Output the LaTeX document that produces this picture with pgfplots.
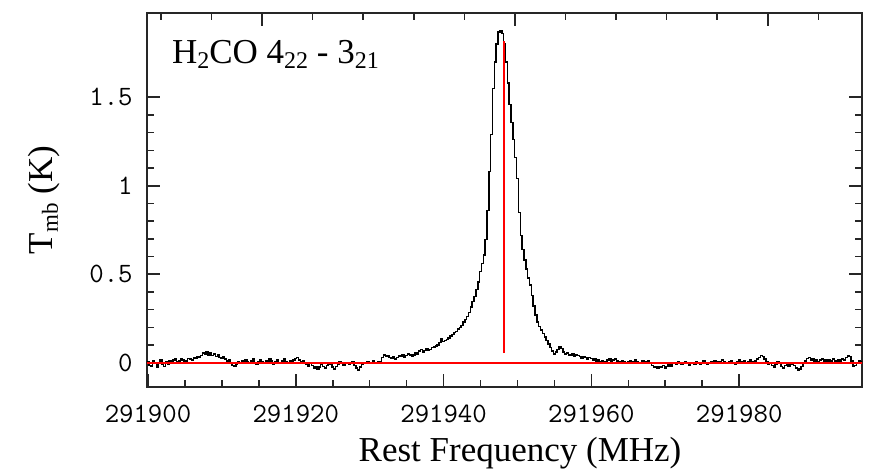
\documentclass[border=0pt]{standalone}
\usepackage{fontspec}
\setmainfont{Liberation Serif}
\usepackage{pgfplots}
\usepackage{pgfplotstable}
\pgfplotsset{compat=1.18}
\definecolor{specred}{rgb}{1,0,0}
\newcommand\sub[2][10]{\raisebox{-0.3ex}{\fontsize{#1}{#1}\selectfont #2}}

% frequency offset from 291900 MHz, T_mb in K
\pgfplotstableread{
f T
-0.25 0.000
0.00 0.005
0.25 -0.015
0.50 -0.020
0.75 0.010
1.00 -0.005
1.25 -0.025
1.50 0.000
1.75 0.015
2.00 -0.010
2.25 -0.020
2.50 0.005
2.75 -0.010
3.00 0.010
3.25 0.000
3.50 0.015
3.75 0.020
4.00 0.005
4.25 0.010
4.50 0.020
4.75 0.015
5.00 0.000
5.25 0.010
5.50 0.025
5.75 0.020
6.00 0.015
6.25 0.030
6.50 0.025
6.75 0.035
7.00 0.030
7.25 0.040
7.50 0.055
7.75 0.050
8.00 0.060
8.25 0.045
8.50 0.055
8.75 0.040
9.00 0.050
9.25 0.035
9.50 0.045
9.75 0.030
10.00 0.025
10.25 0.035
10.50 0.020
10.75 0.010
11.00 0.015
11.25 0.000
11.50 -0.015
11.75 -0.020
12.00 -0.010
12.25 0.005
12.50 -0.005
12.75 0.010
13.00 0.000
13.25 0.015
13.50 0.005
13.75 -0.005
14.00 0.010
14.25 0.020
14.50 0.000
14.75 -0.010
15.00 0.005
15.25 0.015
15.50 0.005
15.75 -0.005
16.00 0.010
16.25 0.000
16.50 0.020
16.75 0.010
17.00 -0.010
17.25 0.005
17.50 0.015
17.75 0.000
18.00 -0.005
18.25 0.010
18.50 0.020
18.75 0.005
19.00 -0.005
19.25 0.010
19.50 0.000
19.75 0.015
20.00 0.025
20.25 0.030
20.50 0.015
20.75 0.005
21.00 0.010
21.25 0.000
21.50 -0.010
21.75 -0.020
22.00 -0.005
22.25 -0.015
22.50 -0.030
22.75 -0.020
23.00 -0.035
23.25 -0.025
23.50 -0.010
23.75 -0.020
24.00 -0.030
24.25 -0.015
24.50 0.000
24.75 -0.010
25.00 -0.025
25.25 -0.035
25.50 -0.020
25.75 -0.010
26.00 0.005
26.25 -0.005
26.50 -0.015
26.75 -0.005
27.00 0.000
27.25 -0.010
27.50 -0.005
27.75 0.005
28.00 -0.015
28.25 -0.030
28.50 -0.040
28.75 -0.025
29.00 -0.010
29.25 0.000
29.50 -0.005
29.75 0.005
30.00 -0.005
30.25 0.000
30.50 0.010
30.75 -0.005
31.00 0.000
31.25 0.005
31.50 0.000
31.75 0.030
32.00 0.045
32.25 0.035
32.50 0.040
32.75 0.030
33.00 0.025
33.25 0.035
33.50 0.020
33.75 0.030
34.00 0.040
34.25 0.035
34.50 0.045
34.75 0.030
35.00 0.040
35.25 0.050
35.50 0.045
35.75 0.035
36.00 0.045
36.25 0.055
36.50 0.050
36.75 0.065
37.00 0.075
37.25 0.060
37.50 0.070
37.75 0.080
38.00 0.070
38.25 0.075
38.50 0.085
38.75 0.090
39.00 0.095
39.25 0.100
39.50 0.115
39.75 0.135
40.00 0.120
40.25 0.125
40.50 0.130
40.75 0.140
41.00 0.150
41.25 0.160
41.50 0.170
41.75 0.177
42.00 0.190
42.25 0.200
42.50 0.210
42.75 0.230
43.00 0.245
43.25 0.260
43.50 0.285
43.75 0.315
44.00 0.345
44.25 0.375
44.50 0.415
44.75 0.455
45.00 0.515
45.25 0.560
45.50 0.610
45.75 0.695
46.00 0.860
46.25 1.080
46.50 1.290
46.75 1.550
47.00 1.700
47.25 1.800
47.50 1.870
47.75 1.877
48.00 1.860
48.25 1.800
48.50 1.700
48.75 1.580
49.00 1.460
49.25 1.356
49.50 1.260
49.75 1.160
50.00 1.040
50.25 0.850
50.50 0.720
50.75 0.640
51.00 0.580
51.25 0.530
51.50 0.480
51.75 0.440
52.00 0.380
52.25 0.320
52.50 0.270
52.75 0.230
53.00 0.205
53.25 0.185
53.50 0.165
53.75 0.145
54.00 0.125
54.25 0.105
54.50 0.085
54.75 0.065
55.00 0.050
55.25 0.060
55.50 0.075
55.75 0.090
56.00 0.080
56.25 0.060
56.50 0.050
56.75 0.055
57.00 0.045
57.25 0.040
57.50 0.050
57.75 0.035
58.00 0.045
58.25 0.040
58.50 0.035
58.75 0.025
59.00 0.035
59.25 0.030
59.50 0.020
59.75 0.030
60.00 0.025
60.25 0.015
60.50 0.020
60.75 0.010
61.00 0.015
61.25 0.005
61.50 0.010
61.75 0.000
62.00 0.005
62.25 0.015
62.50 0.020
62.75 0.010
63.00 0.015
63.25 0.020
63.50 0.010
63.75 0.005
64.00 0.000
64.25 0.010
64.50 0.005
64.75 -0.005
65.00 0.005
65.25 0.010
65.50 0.000
65.75 0.005
66.00 0.015
66.25 0.005
66.50 -0.005
66.75 0.000
67.00 0.010
67.25 0.005
67.50 0.000
67.75 0.010
68.00 0.000
68.25 -0.015
68.50 -0.025
68.75 -0.020
69.00 -0.030
69.25 -0.020
69.50 -0.025
69.75 -0.015
70.00 -0.030
70.25 -0.020
70.50 -0.010
70.75 -0.020
71.00 -0.005
71.25 0.000
71.50 -0.010
71.75 0.005
72.00 -0.005
72.25 -0.010
72.50 0.000
72.75 0.005
73.00 -0.005
73.25 -0.015
73.50 -0.005
73.75 0.000
74.00 -0.010
74.25 0.005
74.50 -0.005
74.75 -0.010
75.00 0.000
75.25 0.010
75.50 0.000
75.75 -0.010
76.00 -0.005
76.25 0.005
76.50 0.000
76.75 0.010
77.00 0.005
77.25 -0.005
77.50 0.005
77.75 0.015
78.00 0.005
78.25 0.000
78.50 -0.005
78.75 0.005
79.00 0.010
79.25 0.000
79.50 -0.010
79.75 0.005
80.00 0.015
80.25 0.005
80.50 0.000
80.75 0.010
81.00 -0.005
81.25 0.005
81.50 0.015
81.75 0.005
82.00 -0.005
82.25 0.010
82.50 0.020
82.75 0.030
83.00 0.040
83.25 0.035
83.50 0.020
83.75 0.005
84.00 -0.010
84.25 0.000
84.50 -0.015
84.75 -0.025
85.00 -0.010
85.25 0.005
85.50 -0.005
85.75 -0.020
86.00 -0.030
86.25 -0.015
86.50 -0.005
86.75 -0.020
87.00 -0.010
87.25 0.000
87.50 -0.015
87.75 -0.030
88.00 -0.040
88.25 -0.035
88.50 -0.020
88.75 -0.005
89.00 0.010
89.25 0.025
89.50 0.030
89.75 0.015
90.00 0.025
90.25 0.010
90.50 0.015
90.75 0.005
91.00 0.015
91.25 0.020
91.50 0.010
91.75 0.015
92.00 0.005
92.25 0.015
92.50 0.010
92.75 0.020
93.00 0.010
93.25 0.005
93.50 0.015
93.75 0.010
94.00 0.020
94.25 0.015
94.50 0.030
94.75 0.040
95.00 0.035
95.25 0.010
95.50 -0.020
95.75 -0.015
96.00 0.000
96.25 0.010
96.50 0.005
96.75 0.000
}\spec

\begin{document}
\begin{tikzpicture}
\path[use as bounding box] (0,0) rectangle (436.5pt,235pt);
\begin{axis}[
  at={(73.5pt,41.5pt)}, anchor=south west,
  scale only axis, width=357.5pt, height=187pt,
  xmin=-0.135, xmax=96.62, ymin=-0.137, ymax=1.976,
  xtick={0,20,40,60,80},
  xticklabels={291900,291920,291940,291960,291980},
  minor x tick num=3,
  ytick={0,0.5,1,1.5}, yticklabels={0,0.5,1,1.5},
  minor y tick num=4,
  xtick pos=left, ytick pos=both, tick align=inside,
  major tick length=6.5pt, minor tick length=3.5pt,
  axis line style={line width=0.9pt, black!85},
  tick style={line width=0.8pt, black!85},
  tick label style={font=\ttfamily\fontsize{14}{14}\selectfont, inner sep=0pt},
  xticklabel style={anchor=north, yshift=-9pt},
  yticklabel style={anchor=east, xshift=-7pt},
  xlabel={Rest Frequency (MHz)},
  ylabel={T\sub[11.5]{mb} (K)},
  label style={font=\fontsize{17.5}{17.5}\selectfont},
  xlabel style={at={(axis description cs:0.5217,-0.2005)}, anchor=base},
  ylabel style={at={(axis description cs:-0.1315,0.5)}, anchor=base},
]
\addplot[const plot mark mid, black, line width=0.75pt] table[x=f, y=T] {\spec};
\addplot[draw=specred, line width=0.8pt] coordinates {(-0.2,0) (96.7,0)};
\addplot[draw=specred, line width=1.0pt] coordinates {(48.12,0.055) (48.12,1.815)};
\node[anchor=base west, inner sep=0pt, font=\fontsize{17.5}{17.5}\selectfont]
  at (rel axis cs:0.0345,0.8655) {H\sub[12]{2}CO 4\sub[12]{22} - 3\sub[12]{21}};
\end{axis}
\begin{axis}[
  at={(73.5pt,41.5pt)}, anchor=south west,
  scale only axis, width=357.5pt, height=187pt,
  xmin=-0.135, xmax=96.62, ymin=-0.137, ymax=1.976,
  xtick={15.43,49.65,83.87},
  minor xtick={1.74,8.59,22.27,29.12,35.96,42.81,56.49,63.34,70.18,77.03,90.71},
  xticklabels={,,}, ytick=\empty,
  xtick pos=right, tick align=inside,
  major tick length=6.5pt, minor tick length=3.5pt,
  axis line style={draw=none},
  tick style={line width=0.8pt, black!85},
]
\end{axis}
\end{tikzpicture}
\end{document}
